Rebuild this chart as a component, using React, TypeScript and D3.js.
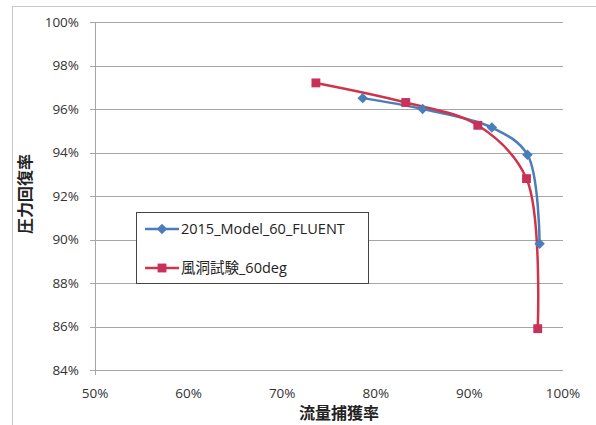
import React, { useEffect, useRef } from 'react'
import * as d3 from 'd3'

// flow capture ratio (%) / pressure recovery (%)
const fluentX = [78.6, 85.0, 92.4, 96.2, 97.5]
const fluentY = [96.5, 96.0, 95.15, 93.9, 89.8]
const windX = [73.6, 83.2, 90.9, 96.1, 97.3]
const windY = [97.2, 96.3, 95.25, 92.8, 85.9]

const xTicks = [50, 60, 70, 80, 90, 100]
const yTicks = [84, 86, 88, 90, 92, 94, 96, 98, 100]

const seriesNames = ['2015_Model_60_FLUENT', '風洞試験_60deg']
const xTitle = '流量捕獲率'
const yTitle = '圧力回復率'

const W = 596
const H = 425
const font = '"Open Sans", "Noto Sans CJK JP", sans-serif'

const App: React.FC = () => {
  const svgRef = useRef<SVGSVGElement>(null)

  useEffect(() => {
    if (!svgRef.current) return
    const svg = d3.select(svgRef.current)
    svg.selectAll('*').remove()

    const x = d3.scaleLinear().domain([50, 100]).range([95, 563])
    const y = d3.scaleLinear().domain([84, 100]).range([370, 22])

    // chart frame
    svg.append('rect')
      .attr('x', 12.5).attr('y', 6.5)
      .attr('width', W).attr('height', H)
      .attr('fill', 'white').attr('stroke', '#c8c8c8')

    // gridlines
    svg.append('g').selectAll('line')
      .data(yTicks)
      .join('line')
      .attr('x1', x(50) - 5).attr('x2', x(100))
      .attr('y1', d => Math.round(y(d)) + 0.5).attr('y2', d => Math.round(y(d)) + 0.5)
      .attr('stroke', '#a6a6a6')

    // y axis line
    svg.append('line')
      .attr('x1', x(50) + 0.5).attr('x2', x(50) + 0.5)
      .attr('y1', y(100)).attr('y2', y(84) + 5)
      .attr('stroke', '#a6a6a6')

    svg.append('g').selectAll('text')
      .data(yTicks)
      .join('text')
      .attr('x', 79).attr('y', d => y(d))
      .attr('dy', '0.35em')
      .attr('text-anchor', 'end')
      .attr('font-family', font).attr('font-size', 13.5).attr('fill', '#333')
      .text(d => `${d}%`)

    svg.append('g').selectAll('text')
      .data(xTicks)
      .join('text')
      .attr('x', d => x(d)).attr('y', 393)
      .attr('dy', '0.35em')
      .attr('text-anchor', 'middle')
      .attr('font-family', font).attr('font-size', 13.5).attr('fill', '#333')
      .text(d => `${d}%`)

    svg.append('text')
      .attr('x', 339).attr('y', 413)
      .attr('dy', '0.35em')
      .attr('text-anchor', 'middle')
      .attr('font-family', font).attr('font-size', 16).attr('font-weight', 'bold').attr('fill', '#222')
      .text(xTitle)

    svg.append('text')
      .attr('transform', `translate(25,194) rotate(-90)`)
      .attr('dy', '0.35em')
      .attr('text-anchor', 'middle')
      .attr('font-family', font).attr('font-size', 16).attr('font-weight', 'bold').attr('fill', '#222')
      .text(yTitle)

    const line = d3.line<[number, number]>()
      .x(d => x(d[0])).y(d => y(d[1]))
      .curve(d3.curveCatmullRom.alpha(0.5))

    const fluent = fluentX.map((v, i) => [v, fluentY[i]] as [number, number])
    const wind = windX.map((v, i) => [v, windY[i]] as [number, number])

    const blue = '#4a7ebb'
    const red = '#d0344a'
    const redMarker = '#c8325a'

    svg.append('path').attr('d', line(fluent)!)
      .attr('fill', 'none').attr('stroke', blue).attr('stroke-width', 2.5)
    svg.append('path').attr('d', line(wind)!)
      .attr('fill', 'none').attr('stroke', red).attr('stroke-width', 2.5)

    const diamond = d3.symbol(d3.symbolDiamond2, 70)()
    const square = d3.symbol(d3.symbolSquare2, 100)()

    svg.append('g').selectAll('path')
      .data(fluent)
      .join('path')
      .attr('d', diamond)
      .attr('transform', d => `translate(${x(d[0])},${y(d[1])})`)
      .attr('fill', blue)

    svg.append('g').selectAll('path')
      .data(wind)
      .join('path')
      .attr('d', square)
      .attr('transform', d => `translate(${x(d[0])},${y(d[1])})`)
      .attr('fill', redMarker)

    // legend
    const lg = svg.append('g')
    lg.append('rect')
      .attr('x', 136.5).attr('y', 212.5)
      .attr('width', 232).attr('height', 71)
      .attr('fill', 'white').attr('stroke', '#444').attr('stroke-width', 1)

    const items = [
      { name: seriesNames[0], color: blue, marker: diamond, mc: blue, cy: 229 },
      { name: seriesNames[1], color: red, marker: square, mc: redMarker, cy: 268 }
    ]
    items.forEach(it => {
      lg.append('line')
        .attr('x1', 145).attr('x2', 179)
        .attr('y1', it.cy).attr('y2', it.cy)
        .attr('stroke', it.color).attr('stroke-width', 2.5)
      lg.append('path')
        .attr('d', it.marker)
        .attr('transform', `translate(162,${it.cy})`)
        .attr('fill', it.mc)
      lg.append('text')
        .attr('x', 181).attr('y', it.cy)
        .attr('dy', '0.35em')
        .attr('font-family', font).attr('font-size', 14.5).attr('fill', '#222')
        .text(it.name)
    })
  }, [])

  return (
    <svg ref={svgRef} width={W} height={H}
      style={{ position: 'absolute', left: 0, top: 0, background: 'white' }} />
  )
}

export default App
